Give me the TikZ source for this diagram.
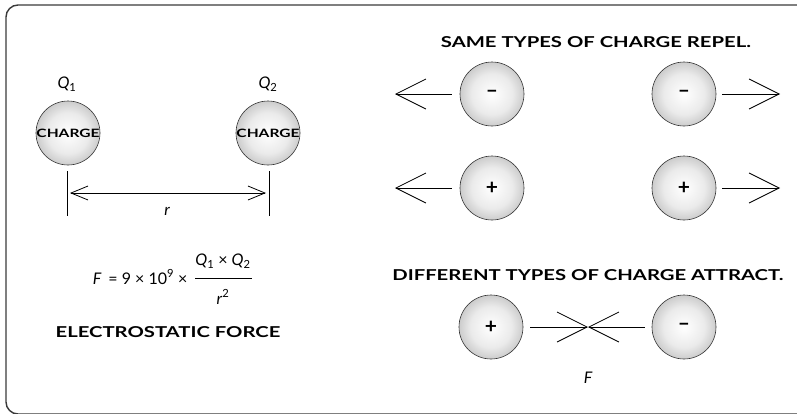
\documentclass[tikz,border=0pt]{standalone}
\usepackage{fontspec}
\setmainfont{Lato}
\newfontfamily\comicfont[FakeStretch=1.35]{Lato}
\usetikzlibrary{arrows.meta}
\definecolor{framegray}{HTML}{3A3A3A}
\pgfdeclareradialshading{ballshade}{\pgfpoint{0bp}{0bp}}{%
  color(0bp)=(white); color(16bp)=(white!92!black);
  color(25bp)=(white!80!black); color(50bp)=(white!80!black)}

\begin{document}
\begin{tikzpicture}[x=1pt,y=-1pt,
  font=\fontsize{16}{18}\selectfont,
  charge/.style={circle,draw=black!80,line width=0.6pt,minimum size=64pt,
    inner sep=0pt,shading=ballshade,
    font=\comicfont\bfseries\fontsize{11.5}{13}\selectfont},
  sign/.style={charge,font=\bfseries\fontsize{21}{23}\selectfont},
  head/.style={font=\comicfont\bfseries\fontsize{15}{17}\selectfont},
  lbl/.style={font=\itshape\fontsize{16}{18}\selectfont},
  tick/.style={line width=0.8pt},
  smallarr/.style={{Straight Barb[length=17pt,width=14pt]}-{Straight Barb[length=17pt,width=14pt]},
    line width=0.8pt},
  bigarr/.style={-{Straight Barb[length=30pt,width=30pt]},line width=0.8pt}
]
  \clip (0,0) rectangle (797,413);
  % frame
  \draw[framegray,line width=1.4pt,rounded corners=12pt]
    (800,5) -- (6,5) -- (6,414) -- (800,414);
  % two charges and distance
  \node[lbl]    (q1) at (67,84)  {Q\textsubscript{\upshape 1}};
  \node[charge] (c1) at (68,133) {CHARGE};
  \node[lbl]    (q2) at (268,84) {Q\textsubscript{\upshape 2}};
  \node[charge] (c2) at (268,133) {CHARGE};
  \coordinate (t1top) at (67,171);  \coordinate (t1bot) at (67,216);
  \coordinate (t2top) at (269,171); \coordinate (t2bot) at (269,216);
  \draw[tick] (t1top) -- (t1bot);
  \draw[tick] (t2top) -- (t2bot);
  \coordinate (m1) at (70,193); \coordinate (m2) at (266,193);
  \draw[smallarr] (m1) -- (m2);
  \node[lbl] (rlab) at (167,211) {r};
  % formula
  \node[anchor=east] (lhs) at (191,277)
    {\textit{F}\, = 9 × 10\textsuperscript{9} ×};
  \node (num) at (223,261) {\textit{Q}\textsubscript{1} × \textit{Q}\textsubscript{2}};
  \node (den) at (223,297) {\textit{r}\textsuperscript{2}};
  \coordinate (barL) at (195,278); \coordinate (barR) at (252,278);
  \draw[line width=0.6pt] (barL) -- (barR);
  \node[head] (title) at (168,332) {ELECTROSTATIC FORCE};
  % same charges
  \node[head] (same) at (596,42) {SAME TYPES OF CHARGE REPEL.};
  \node[sign] (n1) at (492,94)  {--};
  \node[sign] (n2) at (684,94)  {--};
  \node[sign] (p1) at (492,188) {+};
  \node[sign] (p2) at (684,188) {+};
  \coordinate (n1tip) at (395,94);  \coordinate (n2tip) at (780,94);
  \coordinate (p1tip) at (395,188); \coordinate (p2tip) at (780,188);
  \draw[bigarr,shorten <=8pt] (n1) -- (n1tip);
  \draw[bigarr,shorten <=6pt] (n2) -- (n2tip);
  \draw[bigarr,shorten <=8pt] (p1) -- (p1tip);
  \draw[bigarr,shorten <=6pt] (p2) -- (p2tip);
  % different charges
  \node[head] (diff) at (588,275) {DIFFERENT TYPES OF CHARGE ATTRACT.};
  \node[sign] (p3) at (491,327) {+};
  \node[sign] (n3) at (684,327) {--};
  \coordinate (meet) at (588,327);
  \draw[bigarr,shorten <=7pt] (p3) -- (meet);
  \draw[bigarr,shorten <=7pt] (n3) -- (meet);
  \node[lbl] (flab) at (588,378) {F};
\end{tikzpicture}
\end{document}
